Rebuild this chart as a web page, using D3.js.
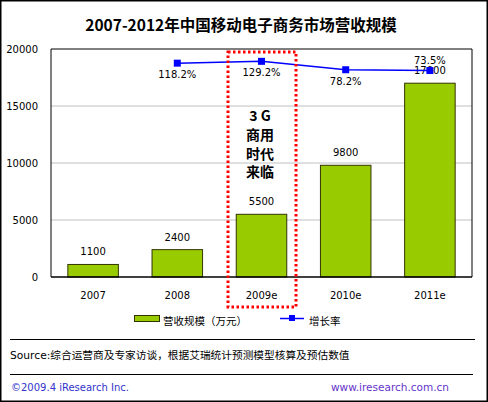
<!DOCTYPE html>
<html>
<head>
<meta charset="utf-8">
<script src="https://cdn.jsdelivr.net/npm/d3@7"></script>
<style>
  body { margin: 0; background: #fff; }
  svg { display: block; font-family: "DejaVu Sans", "Noto Sans CJK SC", sans-serif; }
</style>
</head>
<body>
<svg id="chart" width="488" height="402"></svg>
<script>
// 数据
const years = ["2007", "2008", "2009e", "2010e", "2011e"];
const revenue = [1100, 2400, 5500, 9800, 17000];
const growth = [null, 118.2, 129.2, 78.2, 73.5];
const growthLabelPos = [null, "below", "below", "below", "above"];
const yTicks = [0, 5000, 10000, 15000, 20000];
const note = ["3 G", "商用", "时代", "来临"];

const svg = d3.select("#chart");
const W = 488, H = 402;
const plot = { left: 51, right: 472, top: 49, bottom: 277 };

// 外框
svg.append("rect")
    .attr("x", 0.75).attr("y", 0.75)
    .attr("width", W - 1.5).attr("height", H - 1.5)
    .attr("fill", "#fff").attr("stroke", "#000").attr("stroke-width", 1.5);

// 标题
svg.append("text")
    .attr("x", 241).attr("y", 31)
    .attr("text-anchor", "middle")
    .style("font-family", "'Noto Sans CJK SC', sans-serif")
    .style("font-size", "15.5px").style("font-weight", "bold")
    .text("2007-2012年中国移动电子商务市场营收规模");

const x = d3.scaleBand().domain(years)
    .range([plot.left, plot.right]).paddingInner(0.4).paddingOuter(0.2);
const y = d3.scaleLinear().domain([0, 20000]).range([plot.bottom, plot.top]);
// 增长率的隐藏副轴
const y2 = d3.scaleLinear().domain([-1178, 204]).range([plot.bottom, plot.top]);

// 网格线
svg.append("g").selectAll("line")
    .data(yTicks.filter(d => d > 0 && d < 20000))
    .enter().append("line")
    .attr("x1", plot.left).attr("x2", plot.right)
    .attr("y1", d => y(d)).attr("y2", d => y(d))
    .attr("stroke", "#c0c0c0").attr("stroke-width", 1);

// Y 轴刻度
svg.append("g").selectAll("text")
    .data(yTicks)
    .enter().append("text")
    .attr("x", 38).attr("y", d => y(d) + 4)
    .attr("text-anchor", "end")
    .style("font-size", "10px")
    .text(d => d);

// 柱子
svg.append("g").selectAll("rect")
    .data(revenue)
    .enter().append("rect")
    .attr("x", (d, i) => x(years[i]))
    .attr("y", d => y(d))
    .attr("width", x.bandwidth())
    .attr("height", d => plot.bottom - y(d))
    .attr("fill", "#99cc00")
    .attr("stroke", "#333300").attr("stroke-width", 1);

// 柱子数值
svg.append("g").selectAll("text")
    .data(revenue)
    .enter().append("text")
    .attr("x", (d, i) => x(years[i]) + x.bandwidth() / 2)
    .attr("y", d => y(d) - 9)
    .attr("text-anchor", "middle")
    .style("font-size", "10px")
    .text(d => d);

// 绘图区边框
svg.append("path")
    .attr("d", `M${plot.left},${plot.bottom}V${plot.top}H${plot.right}V${plot.bottom}`)
    .attr("fill", "none").attr("stroke", "#000").attr("stroke-width", 1);
svg.append("line")
    .attr("x1", plot.left).attr("x2", plot.right)
    .attr("y1", plot.bottom).attr("y2", plot.bottom)
    .attr("stroke", "#000").attr("stroke-width", 1.5);

// 增长率折线
const pts = growth.map((v, i) => ({ v, i })).filter(d => d.v !== null);
const cx = d => x(years[d.i]) + x.bandwidth() / 2;
svg.append("path")
    .datum(pts)
    .attr("d", d3.line().x(cx).y(d => y2(d.v)))
    .attr("fill", "none").attr("stroke", "#0000ff").attr("stroke-width", 1.5);
svg.append("g").selectAll("rect")
    .data(pts)
    .enter().append("rect")
    .attr("x", d => cx(d) - 3.5).attr("y", d => y2(d.v) - 3.5)
    .attr("width", 7).attr("height", 7)
    .attr("fill", "#0000ff");
svg.append("g").selectAll("text")
    .data(pts)
    .enter().append("text")
    .attr("x", cx)
    .attr("y", d => growthLabelPos[d.i] === "above" ? y2(d.v) - 7 : y2(d.v) + 15)
    .attr("text-anchor", "middle")
    .style("font-size", "10px")
    .text(d => d.v.toFixed(1) + "%");

// X 轴标签
svg.append("g").selectAll("text")
    .data(years)
    .enter().append("text")
    .attr("x", d => x(d) + x.bandwidth() / 2)
    .attr("y", 299)
    .attr("text-anchor", "middle")
    .style("font-size", "10px")
    .text(d => d);

// 3G 红色虚线框
svg.append("rect")
    .attr("x", 228).attr("y", 52)
    .attr("width", 68).attr("height", 255)
    .attr("fill", "none").attr("stroke", "#ff0000")
    .attr("stroke-width", 3).attr("stroke-dasharray", "2.5,2.5");

svg.append("g").selectAll("text")
    .data(note)
    .enter().append("text")
    .attr("x", 260).attr("y", (d, i) => 121 + i * 18.8)
    .attr("text-anchor", "middle")
    .style("font-family", "'Noto Sans CJK SC', sans-serif")
    .style("font-size", "14px").style("font-weight", "bold")
    .text(d => d);

// 图例
svg.append("rect")
    .attr("x", 134.5).attr("y", 315.5).attr("width", 25).attr("height", 6)
    .attr("fill", "#99cc00").attr("stroke", "#333300");
svg.append("text")
    .attr("x", 163).attr("y", 325)
    .style("font-family", "'Noto Sans CJK SC', sans-serif")
    .style("font-size", "10.5px")
    .text("营收规模（万元）");
svg.append("line")
    .attr("x1", 280).attr("x2", 304).attr("y1", 318.5).attr("y2", 318.5)
    .attr("stroke", "#0000ff").attr("stroke-width", 1.5);
svg.append("rect")
    .attr("x", 289).attr("y", 315).attr("width", 6).attr("height", 6)
    .attr("fill", "#0000ff");
svg.append("text")
    .attr("x", 309).attr("y", 325)
    .style("font-family", "'Noto Sans CJK SC', sans-serif")
    .style("font-size", "10.5px")
    .text("增长率");

// 分隔线与来源
svg.append("line")
    .attr("x1", 10).attr("x2", 475).attr("y1", 339.5).attr("y2", 339.5)
    .attr("stroke", "#000").attr("stroke-width", 1);
svg.append("text")
    .attr("x", 10).attr("y", 359)
    .style("font-family", "'DejaVu Sans', 'Noto Sans CJK SC', sans-serif")
    .style("font-size", "10.7px")
    .text("Source:综合运营商及专家访谈，根据艾瑞统计预测模型核算及预估数值");
svg.append("line")
    .attr("x1", 10).attr("x2", 473).attr("y1", 374.5).attr("y2", 374.5)
    .attr("stroke", "#000").attr("stroke-width", 1);

// 页脚
svg.append("text")
    .attr("x", 11).attr("y", 391)
    .attr("fill", "#3333cc")
    .style("font-size", "10px")
    .text("©2009.4 iResearch Inc.");
svg.append("text")
    .attr("x", 449).attr("y", 391)
    .attr("text-anchor", "end")
    .attr("fill", "#6633cc")
    .style("font-size", "10.5px")
    .text("www.iresearch.com.cn");
</script>
</body>
</html>
